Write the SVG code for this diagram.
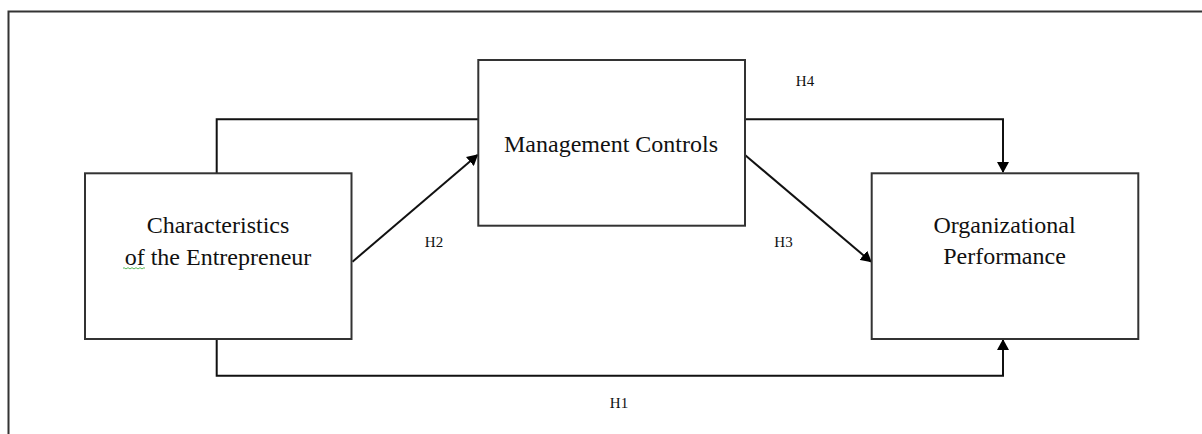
<svg xmlns="http://www.w3.org/2000/svg" width="1202" height="434" viewBox="0 0 1202 434">
<style>
.box{fill:#fff;stroke:#333;stroke-width:2}
.line{fill:none;stroke:#111;stroke-width:2}
.t{font-family:"Liberation Serif","Times New Roman",serif;font-size:24px;fill:#111;text-anchor:middle}
.h{font-family:"Liberation Serif","Times New Roman",serif;font-size:15px;fill:#111;text-anchor:middle}
</style>
<defs>
<marker id="arr" markerWidth="11" markerHeight="12" refX="10" refY="6" orient="auto" markerUnits="userSpaceOnUse">
<path d="M0,0 L11,6 L0,12 Z" fill="#000"/>
</marker>
</defs>
<rect width="1202" height="434" fill="#fff"/>
<path d="M8.5,434 V11.5 H1202" fill="none" stroke="#333" stroke-width="2"/>
<g id="connectors">
<path class="line" d="M216.7,173 V119.3 H478"/>
<path class="line" d="M745,119.3 H1003 V172" marker-end="url(#arr)"/>
<path class="line" d="M216.7,339 V375.7 H1003 V340" marker-end="url(#arr)"/>
<path class="line" d="M352.5,261.7 L477.5,155" marker-end="url(#arr)"/>
<path class="line" d="M745,155 L871,261.7" marker-end="url(#arr)"/>
<text class="h" x="805" y="86">H4</text>
<text class="h" x="434" y="247">H2</text>
<text class="h" x="783.5" y="246.7">H3</text>
<text class="h" x="619" y="408.3">H1</text>
</g>
<g id="node-entrepreneur">
<rect class="box" x="85" y="173.3" width="266.5" height="165.7"/>
<text class="t" x="218" y="233.3">Characteristics</text>
<text class="t" x="218" y="265">of the Entrepreneur</text>
<path d="M123,268.3 q1,-1.2 2,0 t2,0 t2,0 t2,0 t2,0 t2,0 t2,0 t2,0 t2,0 t2,0 t2,0" fill="none" stroke="#3a3" stroke-width="0.8"/>
</g>
<g id="node-management">
<rect class="box" x="478.3" y="60" width="266.7" height="165.7"/>
<text class="t" x="611" y="151.7">Management Controls</text>
</g>
<g id="node-performance">
<rect class="box" x="871.7" y="173.3" width="266.6" height="165.7"/>
<text class="t" x="1004.5" y="232.7">Organizational</text>
<text class="t" x="1004.5" y="264.3">Performance</text>
</g>
</svg>
